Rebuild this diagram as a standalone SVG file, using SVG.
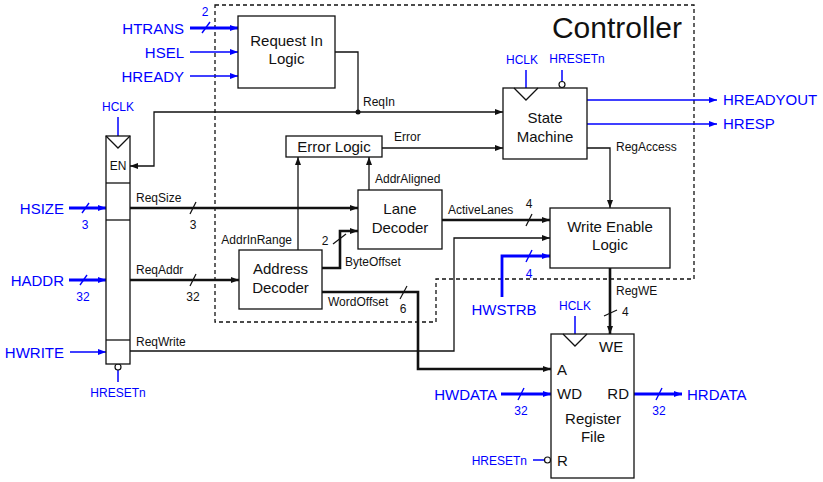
<svg xmlns="http://www.w3.org/2000/svg" width="823" height="482" viewBox="0 0 823 482">
<defs>
<style>
.box{fill:#fff;stroke:#111;stroke-width:1.3}
.w{fill:none;stroke:#111;stroke-width:1.3}
.W{fill:none;stroke:#111;stroke-width:2.6}
.b{fill:none;stroke:#00f;stroke-width:1.5}
.B{fill:none;stroke:#00f;stroke-width:2.8}
.sl{fill:none;stroke:#111;stroke-width:1.2}
.slb{fill:none;stroke:#00f;stroke-width:1.4}
.dash{fill:none;stroke:#111;stroke-width:1.3;stroke-dasharray:4,3}
text{font-family:"Liberation Sans",Arial,Helvetica,sans-serif}
.t{font-size:15px;fill:#111}
.s{font-size:12px;fill:#111}
.bl{font-size:15px;fill:#00f}
.bs{font-size:12px;fill:#00f}
.m{text-anchor:middle}
.e{text-anchor:end}
.ak{marker-end:url(#ak)}
.ab{marker-end:url(#ab)}
</style>
<marker id="ak" markerUnits="userSpaceOnUse" markerWidth="8" markerHeight="6" refX="8" refY="3" orient="auto" viewBox="0 0 8 6"><path d="M0,0 L8,3 L0,6 z" fill="#111"/></marker>
<marker id="ab" markerUnits="userSpaceOnUse" markerWidth="8" markerHeight="6" refX="8" refY="3" orient="auto" viewBox="0 0 8 6"><path d="M0,0 L8,3 L0,6 z" fill="#00f"/></marker>
</defs>
<rect width="823" height="482" fill="#fff"/>

<g id="controller">
<path class="dash" d="M215,5 H694 V279 H436 V322 H215 Z"/>
<text x="682" y="38" style="font-size:30px;fill:#111" class="e">Controller</text>
</g>

<g id="connectors">
<!-- AHB inputs to Request In Logic -->
<line class="B ab" x1="190" y1="28" x2="238" y2="28"/>
<line class="slb" x1="202" y1="33" x2="210" y2="22"/>
<text class="bs m" x="205" y="16">2</text>
<text class="bl e" x="184" y="34">HTRANS</text>
<line class="b ab" x1="190" y1="52" x2="238" y2="52"/>
<text class="bl e" x="184" y="58">HSEL</text>
<line class="b ab" x1="190" y1="76" x2="238" y2="76"/>
<text class="bl e" x="184" y="82">HREADY</text>

<!-- ReqIn -->
<path class="w" d="M335,52 H358 V112"/>
<path class="w ak" d="M358,112 H503"/>
<path class="w ak" d="M358,112 H154 V166 H130"/>
<circle cx="358" cy="112" r="2.5" fill="#111"/>
<text class="s" x="363" y="106">ReqIn</text>

<!-- pipeline register clock/reset -->
<line class="b" x1="118" y1="117" x2="118" y2="136"/>
<text class="bs m" x="118" y="111">HCLK</text>
<line class="b" x1="118" y1="370" x2="118" y2="382"/>
<circle cx="118" cy="367" r="3" fill="#fff" stroke="#111" stroke-width="1.2"/>
<text class="bs m" x="118" y="397">HRESETn</text>

<!-- left inputs -->
<line class="B ab" x1="69" y1="208" x2="106" y2="208"/>
<line class="slb" x1="82" y1="213" x2="89" y2="203"/>
<text class="bs m" x="85" y="229">3</text>
<text class="bl e" x="64" y="214">HSIZE</text>
<line class="B ab" x1="69" y1="280" x2="106" y2="280"/>
<line class="slb" x1="80" y1="285" x2="87" y2="275"/>
<text class="bs m" x="83" y="301">32</text>
<text class="bl e" x="64" y="286">HADDR</text>
<line class="b ab" x1="70" y1="352" x2="106" y2="352"/>
<text class="bl e" x="64" y="358">HWRITE</text>

<!-- ReqSize -->
<line class="W ak" x1="130" y1="208" x2="358" y2="208"/>
<line class="sl" x1="190" y1="214" x2="196" y2="202"/>
<text class="s m" x="193" y="229">3</text>
<text class="s" x="136" y="202">ReqSize</text>

<!-- ReqAddr -->
<line class="W ak" x1="130" y1="280" x2="239" y2="280"/>
<line class="sl" x1="190" y1="286" x2="196" y2="274"/>
<text class="s m" x="193" y="301">32</text>
<text class="s" x="136" y="274">ReqAddr</text>

<!-- ReqWrite -->
<path class="w ak" d="M130,351 H454 V238 H550"/>
<text class="s" x="136" y="346">ReqWrite</text>

<!-- AddrInRange / AddrAligned / Error -->
<line class="w ak" x1="298" y1="250" x2="298" y2="157"/>
<text class="s e" x="292" y="244">AddrInRange</text>
<line class="w ak" x1="369" y1="190" x2="369" y2="157"/>
<text class="s" x="375" y="183">AddrAligned</text>
<line class="w ak" x1="382" y1="148" x2="503" y2="148"/>
<text class="s" x="394" y="141">Error</text>

<!-- ByteOffset -->
<path class="W ak" d="M322,268 H340 V231 H358"/>
<line class="sl" x1="333" y1="244" x2="346" y2="234"/>
<text class="s m" x="325" y="245">2</text>
<text class="s" x="345" y="266">ByteOffset</text>

<!-- WordOffset -->
<path class="W ak" d="M322,292 H418 V369 H551"/>
<line class="sl" x1="400" y1="299" x2="407" y2="286"/>
<text class="s m" x="403" y="313">6</text>
<text class="s" x="328" y="306">WordOffset</text>

<!-- ActiveLanes -->
<line class="W ak" x1="442" y1="220" x2="550" y2="220"/>
<line class="sl" x1="526" y1="226" x2="532" y2="214"/>
<text class="s m" x="529" y="208">4</text>
<text class="s" x="448" y="214">ActiveLanes</text>

<!-- HWSTRB -->
<path class="B ab" d="M502,297 V256 H550"/>
<line class="slb" x1="526" y1="262" x2="532" y2="250"/>
<text class="bs m" x="529" y="278">4</text>
<text class="bl m" x="504" y="315">HWSTRB</text>

<!-- RegAccess -->
<path class="w ak" d="M587,148 H610 V208"/>
<text class="s" x="616" y="151">RegAccess</text>

<!-- State machine outputs -->
<line class="b ab" x1="587" y1="100" x2="717" y2="100"/>
<text class="bl" x="723" y="105">HREADYOUT</text>
<line class="b ab" x1="587" y1="124" x2="717" y2="124"/>
<text class="bl" x="723" y="129">HRESP</text>

<!-- State machine clock/reset -->
<line class="b" x1="526" y1="70" x2="526" y2="88"/>
<text class="bs m" x="522" y="64">HCLK</text>
<line class="b" x1="562" y1="70" x2="562" y2="81"/>
<circle cx="562" cy="84.5" r="3" fill="#fff" stroke="#111" stroke-width="1.2"/>
<text class="bs m" x="577" y="63">HRESETn</text>

<!-- RegWE -->
<line class="W ak" x1="610" y1="268" x2="610" y2="334"/>
<line class="sl" x1="604" y1="316" x2="617" y2="310"/>
<text class="s" x="622" y="316">4</text>
<text class="s" x="616" y="295">RegWE</text>

<!-- Register file clock / data / reset -->
<line class="b" x1="575" y1="316" x2="575" y2="334"/>
<text class="bs m" x="575" y="310">HCLK</text>
<line class="B ab" x1="501" y1="394" x2="551" y2="394"/>
<line class="slb" x1="518" y1="400" x2="524" y2="388"/>
<text class="bs m" x="521" y="415">32</text>
<text class="bl e" x="497" y="400">HWDATA</text>
<line class="B ab" x1="634" y1="394" x2="682" y2="394"/>
<line class="slb" x1="656" y1="400" x2="662" y2="388"/>
<text class="bs m" x="659" y="415">32</text>
<text class="bl" x="687" y="400">HRDATA</text>
<line class="b" x1="533" y1="460" x2="544.5" y2="460"/>
<circle cx="547.5" cy="460" r="3" fill="#fff" stroke="#111" stroke-width="1.2"/>
<text class="bs e" x="527" y="465">HRESETn</text>
</g>

<g id="request-in-logic">
<rect class="box" x="238" y="16" width="97" height="72"/>
<text class="t m" x="286.5" y="46">Request In</text>
<text class="t m" x="286.5" y="64">Logic</text>
</g>

<g id="state-machine">
<rect class="box" x="503" y="88" width="84" height="71"/>
<polyline class="w" points="514,88 526,100 538,88"/>
<text class="t m" x="545" y="123">State</text>
<text class="t m" x="545" y="142">Machine</text>
</g>

<g id="error-logic">
<rect class="box" x="286" y="136" width="96" height="21"/>
<text class="t m" x="334" y="152">Error Logic</text>
</g>

<g id="lane-decoder">
<rect class="box" x="358" y="190" width="84" height="59"/>
<text class="t m" x="400" y="214">Lane</text>
<text class="t m" x="400" y="233">Decoder</text>
</g>

<g id="address-decoder">
<rect class="box" x="239" y="250" width="83" height="59"/>
<text class="t m" x="280.5" y="274">Address</text>
<text class="t m" x="280.5" y="293">Decoder</text>
</g>

<g id="write-enable-logic">
<rect class="box" x="550" y="208" width="120" height="60"/>
<text class="t m" x="610" y="232">Write Enable</text>
<text class="t m" x="610" y="250">Logic</text>
</g>

<g id="pipeline-register">
<rect class="box" x="106" y="136" width="24" height="228"/>
<polyline class="w" points="106,136 118,148 130,136"/>
<line class="w" x1="106" y1="183" x2="130" y2="183"/>
<line class="w" x1="106" y1="220" x2="130" y2="220"/>
<line class="w" x1="106" y1="340" x2="130" y2="340"/>
<text class="s m" x="118" y="170">EN</text>
</g>

<g id="register-file">
<rect class="box" x="551" y="334" width="83" height="144"/>
<polyline class="w" points="563,334 575,346 587,334"/>
<text class="t" x="599" y="352">WE</text>
<text class="t" x="557" y="375">A</text>
<text class="t" x="557" y="399">WD</text>
<text class="t e" x="629" y="399">RD</text>
<text class="t m" x="593" y="424">Register</text>
<text class="t m" x="593" y="442">File</text>
<text class="t" x="557" y="466">R</text>
</g>
</svg>
